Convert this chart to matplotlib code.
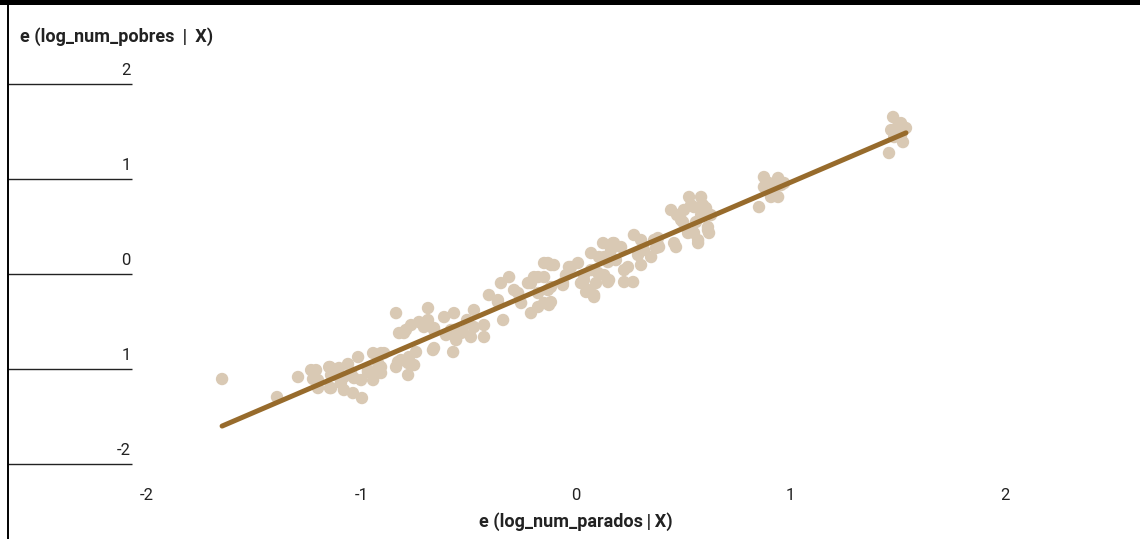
import numpy as np
import matplotlib
matplotlib.use("Agg")
import matplotlib.pyplot as plt
from matplotlib.patches import Rectangle

plt.rcParams['font.family'] = ['Roboto', 'DejaVu Sans']

# residuals (x: e(log_num_parados|X), y: e(log_num_pobres|X))
res_parados = [
    -1.650, -1.394, -1.296, -1.235, -1.212, -1.226, -1.203, -1.147, -1.147, -1.119,
    -1.096, -1.063, -1.016, -1.082, -1.040, -0.998, -1.002, -0.970, -0.946, -0.909,
    -0.909, -0.946, -0.839, -0.825, -0.830, -0.690, -0.793, -0.769, -0.732, -0.709,
    -0.690, -0.662, -0.615, -0.569, -0.569, -0.527, -0.476, -0.476, -0.429, -0.429,
    -0.406, -0.364, -0.350, -0.312, -0.340, -0.289, -0.256, -0.224, -0.196, -0.210,
    -0.177, -0.149, -0.131, -0.103, -0.061, -0.023, -0.667, -0.573, -0.816, -0.779,
    -0.755, -0.895, -0.839, -0.149, -0.117, -0.149, -0.131, -0.117, -0.061, -0.033,
    0.009, 0.037, 0.023, 0.047, 0.084, 0.070, 0.107, 0.126, 0.149, 0.131,
    0.154, 0.172, 0.210, 0.186, 0.224, 0.224, 0.266, 0.270, 0.303, 0.289,
    0.303, 0.350, 0.364, 0.387, 0.457, 0.490, 0.522, 0.569, 0.615, 0.620,
    0.443, 0.527, 0.583, 0.503, 0.550, 0.606, 0.629, 0.499, 0.559, 0.615,
    0.466, 0.382, 0.373, 0.876, 0.876, 0.942, 0.970, 0.909, 0.853, 0.923,
    0.942, 1.478, 1.515, 1.469, 1.483, 1.524, 1.459, 1.538, 1.503, 0.093,
    -0.047, -0.559, -0.508, -0.606,
    -1.203, -1.151, -1.142, -1.082, -1.035, -0.970, -0.923, -0.942, -0.909, -0.783,
    -0.783, -0.746, -0.802, -0.709, -0.662, -0.662, -0.583, -0.536, -0.490, -0.503,
    -0.364, -0.270, -0.177, -0.126, -0.210, -0.177, -0.117, 0.037, 0.056, 0.084,
    0.070, 0.103, 0.131, 0.163, 0.149, 0.177, 0.242, 0.317, 0.382, 0.550,
    0.569, -1.142, -1.105, -1.049, 0.536, 0.583, 0.471, 0.592, 0.900, 0.956,
    1.492, 1.515,
]
res_pobres = [
    -1.105, -1.295, -1.084, -1.011, -1.011, -1.105, -1.200, -0.979, -1.200, -1.063,
    -1.147, -0.947, -0.874, -1.221, -1.253, -1.305, -1.116, -1.032, -0.832, -0.832,
    -0.979, -1.116, -0.411, -0.621, -0.926, -0.358, -0.589, -0.537, -0.505, -0.558,
    -0.484, -0.568, -0.453, -0.411, -0.589, -0.611, -0.379, -0.558, -0.663, -0.537,
    -0.221, -0.295, -0.095, -0.032, -0.484, -0.168, -0.305, -0.095, -0.032, -0.411,
    -0.200, -0.305, 0.116, 0.095, -0.095, 0.074, -0.800, -0.821, -0.905, -0.874,
    -0.958, -0.832, -0.979, 0.116, 0.095, -0.032, -0.168, -0.295, -0.116, 0.074,
    0.116, -0.011, -0.095, -0.189, -0.221, 0.221, 0.179, 0.326, 0.126, -0.011,
    -0.063, 0.326, 0.284, 0.147, 0.042, -0.084, -0.084, 0.411, 0.358, 0.200,
    0.095, 0.179, 0.358, 0.284, 0.326, 0.568, 0.432, 0.358, 0.495, 0.432,
    0.674, 0.811, 0.811, 0.674, 0.705, 0.695, 0.621, 0.547, 0.547, 0.463,
    0.284, 0.379, 0.274, 1.021, 0.916, 1.011, 0.958, 0.811, 0.705, 0.884,
    0.811, 1.653, 1.589, 1.516, 1.442, 1.389, 1.274, 1.537, 1.568, -0.095,
    -0.011, -0.695, -0.484, -0.642,
    -1.116, -0.979, -1.200, -1.084, -1.095, -1.011, -0.937, -1.042, -1.042, -0.937,
    -1.063, -0.821, -0.621, -0.516, -0.589, -0.779, -0.589, -0.621, -0.663, -0.516,
    -0.274, -0.200, -0.347, -0.326, -0.095, -0.032, -0.137, -0.063, -0.168, -0.242,
    0.042, 0.011, 0.179, 0.253, -0.084, 0.326, 0.074, 0.253, 0.305, 0.432,
    0.326, -1.063, -0.989, -1.032, 0.726, 0.621, 0.621, 0.726, 0.958, 0.937,
    1.516, 1.463,
]

x_ticks = [-2, -1, 0, 1, 2]
x_tick_labels = ["-2", "-1", "0", "1", "2"]
y_ticks = [2, 1, 0, -1, -2]
y_tick_labels = ["2", "1", "0", "1", "-2"]

W, H = 1140, 539
fig = plt.figure(figsize=(W / 100, H / 100), dpi=100)
ax = fig.add_axes([8 / W, 0, 1 - 8 / W, 534 / H])
ax.set_xlim(-2.648, 2.629)
ax.set_ylim(-2.789, 2.832)

x = np.array(res_parados)
y = np.array(res_pobres)
ax.scatter(x, y, s=80, color="#d9c9b4", edgecolors="none", zorder=2)

slope, intercept = np.polyfit(x, y, 1)
xl = np.array([x.min(), x.max()])
ax.plot(xl, slope * xl + intercept, color="#976b2c", lw=3.6,
        solid_capstyle="round", zorder=3)

ax.set_xticks([])
ax.set_yticks([])
for s in ["top", "right", "bottom"]:
    ax.spines[s].set_visible(False)
ax.spines["left"].set_linewidth(1.4)
ax.spines["left"].set_color("black")

# y "ticks": short rules with labels sitting on top
ytr = ax.get_yaxis_transform()
ax.hlines(y_ticks, 0, 124 / 1132, transform=ytr, color="#222222", lw=1)
for v, lab in zip(y_ticks, y_tick_labels):
    ax.annotate(lab, (124 / 1132, v), xycoords=ytr, xytext=(-1, 4),
                textcoords="offset points", ha="right", va="bottom",
                fontsize=12, color="#222222")

xtr = ax.get_xaxis_transform()
for v, lab in zip(x_ticks, x_tick_labels):
    ax.text(v, 44 / 534, lab, transform=xtr, ha="center", va="center",
            fontsize=12, color="#222222")

ax.text(0, 17 / 534, "e (log_num_parados\u2009|\u2009X)", transform=xtr, ha="center",
        va="center", fontsize=13, fontweight="bold", color="#222222")
fig.text(20 / W, 1 - 37 / H, "e (log_num_pobres \u2009|\u2009 X)", ha="left", va="center",
         fontsize=13, fontweight="bold", color="#222222")

fig.add_artist(Rectangle((0, 1 - 5 / H), 1, 5 / H, transform=fig.transFigure,
                         color="black", lw=0))

fig.savefig("out.png", dpi=100)
